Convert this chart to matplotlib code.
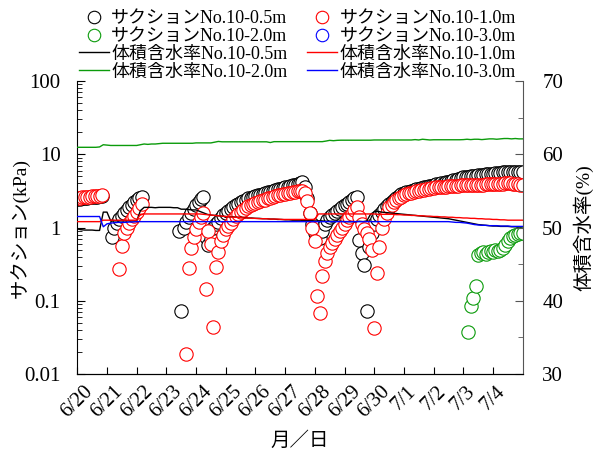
import numpy as np
import matplotlib
matplotlib.use("Agg")
import matplotlib.pyplot as plt
from matplotlib.ticker import FixedLocator, LogLocator, NullFormatter, MultipleLocator, FuncFormatter
from matplotlib.lines import Line2D
import matplotlib.transforms as mtransforms

NA = np.nan

# ---- date axis -------------------------------------------------------------
date_labels = ["6/20", "6/21", "6/22", "6/23", "6/24", "6/25", "6/26", "6/27",
               "6/28", "6/29", "6/30", "7/1", "7/2", "7/3", "7/4"]

# suction readings every 2 hours from 6/20 0:00 (kPa)
suction_05 = [
    2.45, 2.48, 2.5, 2.52, 2.55, 2.57, 2.6, 2.62, 2.64, 2.66, 2.68, NA,
    NA, NA, 0.75, 0.97, 1.15, 1.3, 1.45, 1.6, 1.75, 1.9, 2.05, 2.2,
    2.35, 2.5, 2.62, NA, NA, NA, NA, NA, NA, NA, NA, NA,
    NA, NA, NA, NA, NA, 0.9, 0.072, 1.0, 1.2, 1.4, 1.6, 1.8,
    2.0, 2.2, 2.45, 2.6, 0.75, 0.58, 0.7, 1.0, 1.1, 1.2, 1.35, 1.5,
    1.6, 1.7, 1.8, 1.9, 2.0, 2.1, 2.2, 2.3, 2.4, 2.5, 2.55, 2.6,
    2.7, 2.75, 2.8, 2.9, 3.0, 3.05, 3.1, 3.2, 3.3, 3.35, 3.4, 3.5,
    3.55, 3.6, 3.7, 3.75, 3.8, 3.9, 4.0, 4.2, 3.6, 2.5, 1.6, 1.1,
    0.85, 0.75, 0.71, 0.9, 1.1, 1.25, 1.4, 1.5, 1.6, 1.7, 1.8, 1.9,
    2.0, 2.1, 2.2, 2.4, 2.55, 2.65, 0.67, 0.45, 0.31, 0.072, 0.55, 0.85,
    1.1, 1.3, 1.5, 1.65, 1.8, 1.95, 2.1, 2.25, 2.4, 2.55, 2.7, 2.85,
    2.95, 3.02, 3.1, 3.17, 3.25, 3.32, 3.4, 3.47, 3.55, 3.6, 3.67, 3.73,
    3.8, 3.87, 3.93, 4.0, 4.07, 4.15, 4.23, 4.32, 4.4, 4.5, 4.6, 4.72,
    4.85, 4.9, 4.95, 5.0, 5.05, 5.1, 5.15, 5.2, 5.25, 5.3, 5.35, 5.4,
    5.45, 5.5, 5.55, 5.6, 5.65, 5.7, 5.75, 5.8, 5.8, 5.8, 5.8, 5.8,
    5.78,
]
suction_10 = [
    2.52, 2.55, 2.58, 2.6, 2.62, 2.64, 2.66, 2.68, 2.7, 2.72, 2.74, NA,
    NA, NA, NA, NA, NA, 0.27, 0.56, 0.85, 1.0, 1.15, 1.3, 1.45,
    1.65, 1.85, 2.1, NA, NA, NA, NA, NA, NA, NA, NA, NA,
    NA, NA, NA, NA, NA, NA, NA, NA, 0.019, 0.28, 0.53, 0.75,
    0.95, 1.2, 1.4, 1.57, 0.143, 0.9, 0.6, 0.044, 0.29, 0.46, 0.65, 0.8,
    0.95, 1.05, 1.15, 1.3, 1.45, 1.55, 1.65, 1.75, 1.85, 1.95, 2.0, 2.1,
    2.15, 2.2, 2.3, 2.35, 2.4, 2.5, 2.55, 2.6, 2.7, 2.75, 2.8, 2.85,
    2.9, 2.95, 3.0, 3.05, 3.1, 3.15, 3.2, 3.2, 3.0, 2.3, 1.6, 1.0,
    0.65, 0.116, 0.068, 0.215, 0.35, 0.45, 0.55, 0.62, 0.7, 0.8, 0.9, 1.0,
    1.1, 1.25, 1.4, 1.55, 1.75, 1.92, 1.4, 1.1, 0.95, 0.85, 0.7, 0.5,
    0.043, 0.24, 0.55, 1.0, 1.3, 1.6, 1.9, 2.05, 2.2, 2.35, 2.5, 2.65,
    2.75, 2.85, 2.92, 3.0, 3.07, 3.13, 3.2, 3.25, 3.3, 3.35, 3.4, 3.45,
    3.5, 3.52, 3.55, 3.57, 3.6, 3.62, 3.65, 3.67, 3.7, 3.72, 3.74, 3.75,
    3.77, 3.78, 3.8, 3.8, 3.8, 3.82, 3.83, 3.85, 3.86, 3.88, 3.9, 3.9,
    3.92, 3.93, 3.95, 3.96, 3.98, 4.0, 4.0, 4.0, 3.98, 3.95, 3.9, 3.85,
    3.8,
]
# 2.0 m sensor only reports from 7/3 afternoon
suction_20_start = 158
suction_20 = [
    0.037, 0.085, 0.11, 0.158, 0.42, 0.45, 0.47, 0.44, 0.46, 0.48,
    0.47, 0.5, 0.48, 0.5, 0.53, 0.58, 0.65, 0.72, 0.76, 0.8,
    0.82, 0.84, 0.85,
]
suction_30 = []

# volumetric water content every 3 hours from 6/20 0:00 (%)
vwc_05 = [
    49.8, 49.7, 49.65, 49.65, 49.65, 49.6, 49.6, 52.1,
    52.1, 50.9, 50.9, 50.9, 50.9, 50.9, 50.9, 50.9,
    50.9, 52.3, 52.75, 52.75, 52.75, 52.7, 52.75, 52.75,
    52.75, 52.75, 52.7, 52.7, 52.5, 52.5, 52.45, 52.4,
    52.4, 52.2, 52.0, 51.8, 51.7, 51.65, 51.6, 51.55,
    51.5, 51.45, 51.45, 51.4, 51.4, 51.35, 51.3, 51.3,
    51.25, 51.25, 51.2, 51.2, 51.15, 51.15, 51.1, 51.1,
    51.05, 51.05, 51.0, 51.0, 51.0, 50.95, 50.95, 50.95,
    50.9, 50.9, 50.9, 50.85, 50.85, 50.85, 50.85, 50.85,
    50.8, 50.8, 50.8, 50.8, 50.85, 50.8, 50.9, 51.8,
    52.15, 52.2, 52.1, 52.05, 52.0, 51.95, 51.9, 51.85,
    51.8, 51.75, 51.7, 51.65, 51.6, 51.55, 51.5, 51.45,
    51.4, 51.35, 51.3, 51.25, 51.2, 51.1, 51.0, 50.9,
    50.8, 50.7, 50.6, 50.5, 50.4, 50.35, 50.3, 50.25,
    50.2, 50.2, 50.15, 50.15, 50.15, 50.1, 50.1, 50.1,
    50.1,
]
vwc_10 = [
    50.8, 50.8, 50.8, 50.8, 50.8, 50.8, 50.8, 51.0,
    51.0, 51.0, 51.0, 51.0, 51.0, 51.0, 51.0, 51.0,
    51.0, 51.8, 51.85, 51.85, 51.85, 51.85, 51.85, 51.85,
    51.85, 51.85, 51.85, 51.85, 51.85, 51.85, 51.85, 51.85,
    51.85, 51.85, 51.8, 51.75, 51.7, 51.65, 51.6, 51.55,
    51.5, 51.45, 51.4, 51.4, 51.35, 51.3, 51.3, 51.25,
    51.25, 51.2, 51.2, 51.2, 51.15, 51.15, 51.15, 51.1,
    51.1, 51.1, 51.1, 51.1, 51.1, 51.1, 51.1, 51.1,
    51.1, 51.85, 51.85, 51.85, 51.85, 51.85, 51.85, 51.85,
    51.85, 51.85, 51.85, 51.85, 51.85, 51.85, 51.85, 51.85,
    51.85, 51.8, 51.8, 51.8, 51.8, 51.8, 51.75, 51.75,
    51.7, 51.7, 51.65, 51.65, 51.6, 51.6, 51.55, 51.55,
    51.5, 51.5, 51.45, 51.45, 51.4, 51.4, 51.35, 51.35,
    51.3, 51.3, 51.25, 51.25, 51.2, 51.2, 51.15, 51.15,
    51.1, 51.1, 51.05, 51.05, 51.0, 51.0, 51.0, 51.0,
    51.0,
]
vwc_20 = [
    60.95, 60.95, 60.95, 60.95, 60.95, 60.95, 61.0, 61.3,
    61.25, 61.2, 61.2, 61.2, 61.2, 61.2, 61.2, 61.2,
    61.2, 61.3, 61.4, 61.35, 61.4, 61.4, 61.45, 61.5,
    61.5, 61.5, 61.5, 61.5, 61.5, 61.5, 61.5, 61.5,
    61.55, 61.55, 61.55, 61.55, 61.55, 61.65, 61.75, 61.7,
    61.7, 61.7, 61.7, 61.7, 61.7, 61.7, 61.7, 61.7,
    61.7, 61.7, 61.7, 61.7, 61.6, 61.72, 61.72, 61.72,
    61.72, 61.72, 61.72, 61.72, 61.72, 61.72, 61.72, 61.72,
    61.72, 61.72, 61.72, 61.8, 61.9, 61.85, 61.9, 61.92,
    61.92, 61.92, 61.92, 61.92, 61.92, 61.92, 61.92, 61.92,
    61.95, 61.95, 61.95, 61.95, 61.95, 61.95, 61.95, 61.95,
    61.95, 61.95, 61.95, 62.0, 61.95, 62.05, 62.0, 61.95,
    61.98, 61.98, 61.98, 61.98, 61.98, 61.98, 61.98, 61.98,
    62.0, 62.05, 62.0, 62.05, 62.05, 62.0, 62.05, 62.1,
    62.1, 62.05, 62.1, 62.15, 62.15, 62.1, 62.15, 62.1,
    62.1,
]
vwc_30 = [
    51.5, 51.5, 51.5, 51.5, 51.5, 51.5, 51.5, 50.1,
    50.5, 50.6, 50.65, 50.7, 50.7, 50.7, 50.75, 50.75,
    50.8, 50.8, 50.8, 50.8, 50.8, 50.8, 50.8, 50.8,
    50.8, 50.8, 50.8, 50.8, 50.8, 50.8, 50.8, 50.8,
    50.8, 50.8, 50.8, 50.8, 50.8, 50.8, 50.8, 50.8,
    50.8, 50.8, 50.8, 50.8, 50.8, 50.8, 50.8, 50.8,
    50.8, 50.8, 50.8, 50.8, 50.8, 50.8, 50.8, 50.8,
    50.8, 50.8, 50.8, 50.8, 50.8, 50.8, 50.8, 50.8,
    50.8, 50.8, 50.8, 50.8, 50.8, 50.8, 50.8, 50.8,
    50.8, 50.8, 50.8, 50.8, 50.8, 50.8, 50.8, 50.8,
    50.8, 50.8, 50.8, 50.8, 50.8, 50.8, 50.8, 50.8,
    50.8, 50.8, 50.8, 50.8, 50.8, 50.8, 50.8, 50.8,
    50.8, 50.8, 50.8, 50.8, 50.8, 50.75, 50.7, 50.7,
    50.65, 50.6, 50.5, 50.4, 50.35, 50.3, 50.3, 50.25,
    50.25, 50.25, 50.2, 50.2, 50.2, 50.15, 50.15, 50.15,
    50.15,
]

# ---- styling ---------------------------------------------------------------
plt.rcParams["font.family"] = ["Liberation Serif", "Noto Sans CJK JP"]
plt.rcParams["font.size"] = 15

C_BLACK = "#000000"
C_RED = "#ff0000"
C_GREEN = "#0b9b0b"
C_BLUE = "#0000ff"

fig = plt.figure(figsize=(5.96, 4.59), dpi=100)
ax = fig.add_axes([0.1297, 0.1852, 0.7473, 0.6383])
ax2 = ax.twinx()

t_s = np.arange(len(suction_05)) / 12.0
t_v = np.arange(len(vwc_05)) / 8.0
t_g = (suction_20_start + np.arange(len(suction_20))) / 12.0

mk = dict(linestyle="none", marker="o", markersize=9.6, markeredgewidth=0.8,
          markerfacecolor="white")
ax.plot(t_s, suction_05, color=C_BLACK, **mk)
ax.plot(t_s, suction_10, color=C_RED, **mk)
ax.plot(t_g, suction_20, color=C_GREEN, **mk)
ax.plot(np.array(suction_30, dtype=float), np.array(suction_30, dtype=float),
        color=C_BLUE, **mk)

lw = 1.0
ax2.plot(t_v, vwc_05, color=C_BLACK, lw=lw)
ax2.plot(t_v, vwc_10, color=C_RED, lw=lw)
ax2.plot(t_v, vwc_20, color=C_GREEN, lw=lw)
ax2.plot(t_v, vwc_30, color=C_BLUE, lw=lw)

# left (log) axis
ax.set_yscale("log")
ax.set_ylim(0.01, 100)
ax.set_xlim(0, 15)
ax.yaxis.set_major_locator(FixedLocator([0.01, 0.1, 1, 10, 100]))
ax.yaxis.set_major_formatter(FuncFormatter(lambda v, p: f"{v:g}"))
ax.yaxis.set_minor_locator(LogLocator(base=10, subs=np.arange(2, 10)))
ax.yaxis.set_minor_formatter(NullFormatter())
ax.set_xticks(np.arange(len(date_labels)))
ax.set_xticklabels(date_labels, rotation=45, ha="center", va="top", fontsize=15)
offset = mtransforms.ScaledTranslation(0.17, 0, fig.dpi_scale_trans)
for lab in ax.get_xticklabels():
    lab.set_transform(lab.get_transform() + offset)

ax.tick_params(axis="both", which="both", direction="in", top=False, right=False)
ax.tick_params(axis="y", which="major", length=6, labelsize=15, pad=12)
ax.tick_params(axis="y", which="minor", length=3.5)
ax.tick_params(axis="x", which="major", length=5, pad=6)
ax.spines["top"].set_visible(False)
ax.spines["right"].set_visible(False)

# right (linear) axis
ax2.set_ylim(30, 70)
ax2.yaxis.set_major_locator(MultipleLocator(10))
ax2.yaxis.set_minor_locator(MultipleLocator(5))
ax2.tick_params(axis="y", which="both", direction="in", color="#555555")
ax2.tick_params(axis="y", which="major", length=6, labelsize=15, pad=14)
ax2.tick_params(axis="y", which="minor", length=3.5)
ax2.spines["top"].set_visible(False)
ax2.spines["left"].set_visible(False)
ax2.spines["right"].set_color("#555555")

ax.set_ylabel("サクション(kPa)", fontsize=14)
ax.yaxis.set_label_coords(-0.104, 0.5)
ax2.set_ylabel("体積含水率(%)", fontsize=14)
ax2.yaxis.set_label_coords(1.113, 0.5)
ax.set_xlabel("月／日", fontsize=14)
ax.xaxis.set_label_coords(0.5, -0.195)

# legend: two columns, circles for suction, lines for water content
def circ(c):
    return Line2D([], [], linestyle="none", marker="o", markersize=9,
                  markeredgewidth=0.8, markerfacecolor="white", color=c)

def ln(c):
    return Line2D([], [], color=c, lw=1.0)

handles = [circ(C_BLACK), circ(C_GREEN), ln(C_BLACK), ln(C_GREEN),
           circ(C_RED), circ(C_BLUE), ln(C_RED), ln(C_BLUE)]
labels = ["サクションNo.10-0.5m", "サクションNo.10-2.0m",
          "体積含水率No.10-0.5m", "体積含水率No.10-2.0m",
          "サクションNo.10-1.0m", "サクションNo.10-3.0m",
          "体積含水率No.10-1.0m", "体積含水率No.10-3.0m"]
fig.legend(handles, labels, ncol=2, loc="upper center",
           bbox_to_anchor=(0.499, 1.0), frameon=False, fontsize=13,
           handlelength=1.66, handletextpad=0.12, columnspacing=1.1,
           labelspacing=0.05, borderaxespad=0.15)

fig.savefig("out.png", dpi=100)
